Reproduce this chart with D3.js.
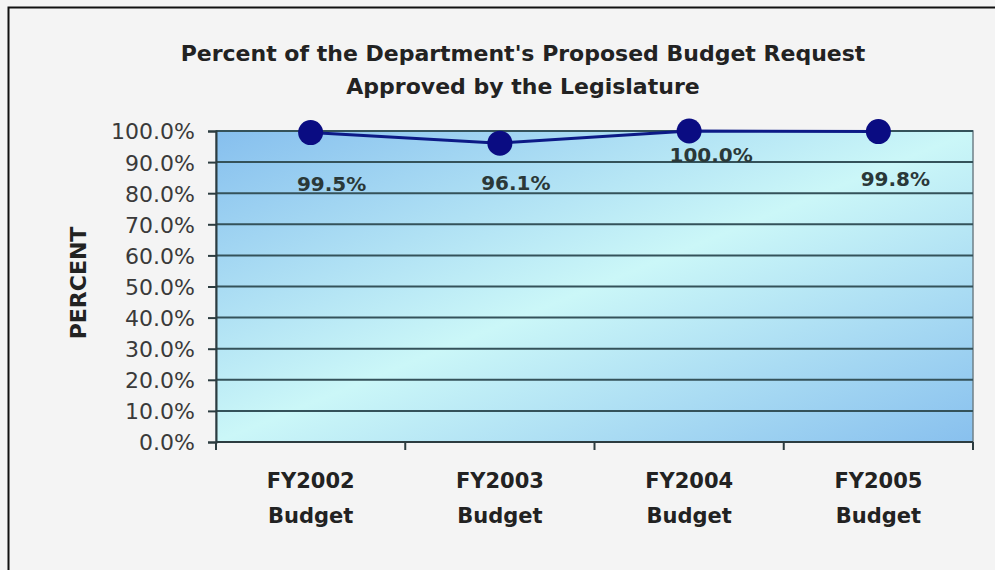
<!DOCTYPE html>
<html>
<head>
<meta charset="utf-8">
<script src="https://cdn.jsdelivr.net/npm/d3@7"></script>
<style>
  body { margin: 0; background: #f4f4f4; }
  svg { display: block; font-family: "DejaVu Sans", Verdana, sans-serif; }
</style>
</head>
<body>
<svg id="chart" width="995" height="570"></svg>
<script>
// chart data
const categories = ["FY2002 Budget", "FY2003 Budget", "FY2004 Budget", "FY2005 Budget"];
const approved = [0.995, 0.961, 1.000, 0.998];
const yTicks = [0, 0.1, 0.2, 0.3, 0.4, 0.5, 0.6, 0.7, 0.8, 0.9, 1.0];
const titleLines = ["Percent of the Department's Proposed Budget Request", "Approved by the Legislature"];

// label placement next to each point (Excel put them by hand)
const labelDx = [21, 16, 22, 17];
const labelDy = [58, 47, 31, 54];

const svg = d3.select("#chart");
const margin = { top: 131, right: 22, bottom: 128, left: 216 };
const width = 995 - margin.left - margin.right;
const height = 570 - margin.top - margin.bottom;

// outer frame
svg.append("rect")
  .attr("width", 995).attr("height", 570)
  .attr("fill", "#f4f4f4");
svg.append("path")
  .attr("d", "M8.5,570 V7.5 H995")
  .attr("fill", "none")
  .attr("stroke", "#111")
  .attr("stroke-width", 2);

// gradient for plot area
const defs = svg.append("defs");
const grad = defs.append("linearGradient")
  .attr("id", "plotGrad")
  .attr("x1", 0).attr("y1", 0).attr("x2", 1).attr("y2", 1);
grad.append("stop").attr("offset", "0%").attr("stop-color", "#86bfee");
grad.append("stop").attr("offset", "50%").attr("stop-color", "#cbf7f8");
grad.append("stop").attr("offset", "100%").attr("stop-color", "#88c0ee");

const g = svg.append("g")
  .attr("transform", "translate(" + margin.left + "," + margin.top + ")");

const x = d3.scaleBand().domain(categories).range([0, width]).padding(0);
const y = d3.scaleLinear().domain([0, 1]).range([height, 0]);

g.append("rect")
  .attr("width", width).attr("height", height)
  .attr("fill", "url(#plotGrad)")
  .attr("stroke", "#6f8088")
  .attr("stroke-width", 1.5);

// gridlines
g.selectAll(".grid")
  .data(yTicks)
  .enter().append("line")
  .attr("class", "grid")
  .attr("x1", 0).attr("x2", width)
  .attr("y1", d => y(d)).attr("y2", d => y(d))
  .attr("stroke", "#34525a")
  .attr("stroke-width", 2);

// y axis
const yAxis = g.append("g")
  .call(d3.axisLeft(y).tickValues(yTicks).tickFormat(d3.format(".1%")).tickSize(8).tickPadding(13));
yAxis.select(".domain").attr("stroke", "#2c3c40").attr("stroke-width", 2);
yAxis.selectAll(".tick line").attr("stroke", "#2c3c40").attr("stroke-width", 2);
yAxis.selectAll("text")
  .attr("fill", "#3a3a3a")
  .style("font-size", "22px")
  .style("font-family", "'DejaVu Sans', sans-serif")
  .attr("dy", "0.36em");

// x axis: ticks on the category boundaries
const xAxis = g.append("g")
  .attr("transform", "translate(0," + height + ")");
xAxis.append("line")
  .attr("x1", 0).attr("x2", width)
  .attr("stroke", "#2c3c40").attr("stroke-width", 2);
const bounds = categories.map(c => x(c)).concat([width]);
xAxis.selectAll(".xtick")
  .data(bounds)
  .enter().append("line")
  .attr("class", "xtick")
  .attr("x1", d => d).attr("x2", d => d)
  .attr("y1", 0).attr("y2", 8)
  .attr("stroke", "#2c3c40").attr("stroke-width", 2);

const xLabels = xAxis.selectAll(".xlabel")
  .data(categories)
  .enter().append("text")
  .attr("class", "xlabel")
  .attr("text-anchor", "middle")
  .attr("fill", "#222")
  .style("font-size", "21px")
  .style("font-weight", "bold");
xLabels.each(function(d) {
  const parts = d.split(" ");
  const t = d3.select(this);
  parts.forEach((p, i) => {
    t.append("tspan")
      .attr("x", x(d) + x.bandwidth() / 2)
      .attr("y", 46 + i * 35)
      .text(p);
  });
});

// line + markers
const line = d3.line()
  .x((d, i) => x(categories[i]) + x.bandwidth() / 2)
  .y(d => y(d));

g.append("path")
  .datum(approved)
  .attr("d", line)
  .attr("fill", "none")
  .attr("stroke", "#0c1a86")
  .attr("stroke-width", 3);

g.selectAll(".dot")
  .data(approved)
  .enter().append("circle")
  .attr("class", "dot")
  .attr("cx", (d, i) => x(categories[i]) + x.bandwidth() / 2)
  .attr("cy", d => y(d))
  .attr("r", 12.5)
  .attr("fill", "#0a0c82");

// data labels
g.selectAll(".vlabel")
  .data(approved)
  .enter().append("text")
  .attr("class", "vlabel")
  .attr("x", (d, i) => x(categories[i]) + x.bandwidth() / 2 + labelDx[i])
  .attr("y", (d, i) => y(d) + labelDy[i])
  .attr("text-anchor", "middle")
  .attr("fill", "#2a3838")
  .style("font-size", "20px")
  .style("font-weight", "bold")
  .text(d => d3.format(".1%")(d));

// title
svg.selectAll(".title")
  .data(titleLines)
  .enter().append("text")
  .attr("class", "title")
  .attr("x", 523)
  .attr("y", (d, i) => 61 + i * 33)
  .attr("text-anchor", "middle")
  .attr("fill", "#222")
  .style("font-size", "22px")
  .style("font-weight", "bold")
  .text(d => d);

// y axis title
svg.append("text")
  .attr("transform", "translate(86,283) rotate(-90)")
  .attr("text-anchor", "middle")
  .attr("fill", "#222")
  .style("font-size", "22px")
  .style("font-weight", "bold")
  .text("PERCENT");
</script>
</body>
</html>
